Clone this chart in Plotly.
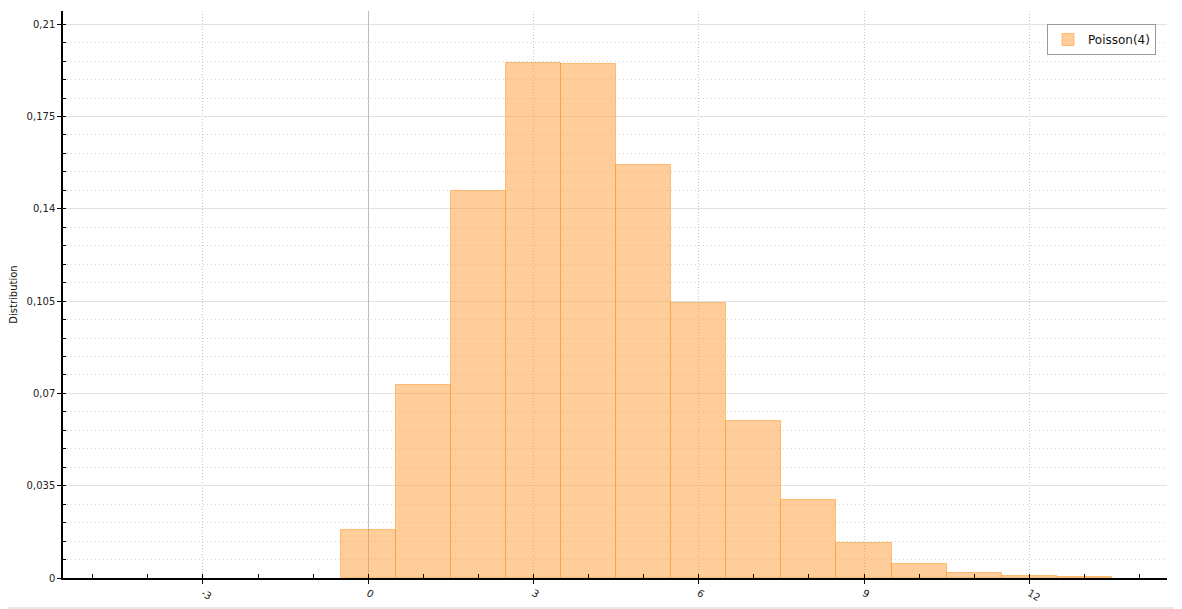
import plotly.graph_objects as go

# Data
k_values = [0, 1, 2, 3, 4, 5, 6, 7, 8, 9, 10, 11, 12, 13]
probabilities = [0.0182, 0.0732, 0.1467, 0.1952, 0.1950, 0.1566, 0.1042,
                 0.0595, 0.0296, 0.0133, 0.0053, 0.0019, 0.0008, 0.0003]
x_tick_values = [-3, 0, 3, 6, 9, 12]
x_tick_labels = ["-3", "0", "3", "6", "9", "12"]
series_name = "Poisson(4)"
y_title = "Distribution"

# page body has an 8px margin, so the figure is offset by 8px
OFF = 8
W, H = 1182 - OFF, 609 - OFF
ml, mr, mt, mb = 63 - OFF, 15, 11 - OFF, 31
pw, ph = W - ml - mr, H - mt - mb

fig = go.Figure()
fig.add_trace(go.Bar(
    x=k_values, y=probabilities, width=1, name=series_name,
    marker=dict(color="rgba(253,155,51,0.5)",
                line=dict(color="rgba(255,150,40,0.55)", width=1)),
    showlegend=True,
))

fig.update_layout(
    width=W, height=H,
    margin=dict(l=ml, r=mr, t=mt, b=mb, autoexpand=False),
    paper_bgcolor="white", plot_bgcolor="white",
    separators=", ",
    font=dict(family="DejaVu Sans", size=10, color="#222"),
    bargap=0,
    showlegend=True,
    legend=dict(x=(1156 - 63) / pw, xanchor="right", y=(578 - 24) / ph, yanchor="top",
                bordercolor="#999999", borderwidth=1, bgcolor="white",
                font=dict(size=12, color="#111")),
    xaxis=dict(range=[-5.54, 14.5], tickmode="array", tickvals=x_tick_values,
               ticktext=x_tick_labels, showline=True, linecolor="black",
               linewidth=1.5, ticks="outside", ticklen=4, tickcolor="black",
               tickangle=30, tickfont=dict(size=10, color="#222"),
               showgrid=True, gridcolor="#c4c4c4", griddash="1px,2px", gridwidth=1,
               zeroline=True, zerolinecolor="#bdbdbd", zerolinewidth=1,
               minor=dict(tick0=0, dtick=1, ticks="inside", ticklen=4, tickcolor="black",
                          showgrid=False)),
    yaxis=dict(range=[0, 0.215], tick0=0, dtick=0.035, showline=True, linecolor="black",
               linewidth=1.5, ticks="outside", ticklen=4, tickcolor="black",
               tickfont=dict(size=10, color="#222"),
               showgrid=True, gridcolor="#e2e2e2", gridwidth=1,
               zeroline=False,
               title=dict(text=y_title, font=dict(size=10, color="#111"), standoff=12),
               minor=dict(dtick=0.007, ticks="inside", ticklen=3, tickcolor="black",
                          showgrid=True, gridcolor="#d4d4d4", griddash="1px,3px", gridwidth=1)),
    shapes=[dict(type="rect", xref="paper", yref="paper",
                 x0=-(ml + OFF - 1) / pw, x1=1 + (mr - 1) / pw,
                 y0=-(mb - 1) / ph, y1=1 + (mt + OFF - 1) / ph,
                 line=dict(color="#e8e8e8", width=2), layer="below")],
)

fig.write_html("out.html")
